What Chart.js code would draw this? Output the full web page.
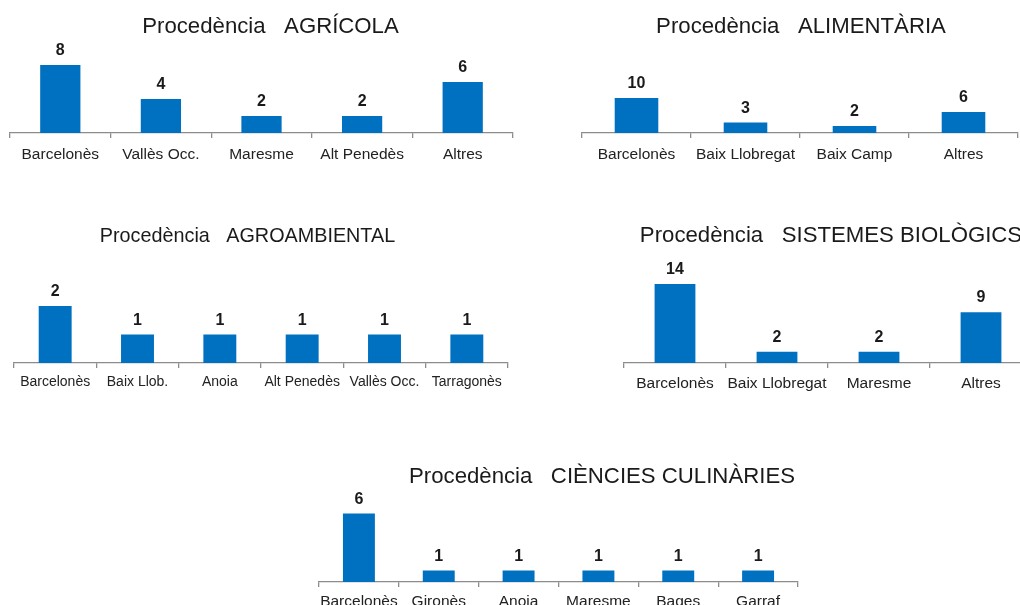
<!DOCTYPE html>
<html>
<head>
<meta charset="utf-8">
<script src="https://cdn.jsdelivr.net/npm/chart.js@4.4.1/dist/chart.umd.min.js"></script>
<style>
  html, body { margin: 0; padding: 0; background: #fff; overflow: hidden; }
  #page { position: relative; width: 1020px; height: 605px; overflow: hidden; }
  #page canvas { position: absolute; }
</style>
</head>
<body>
<div id="page"></div>
<script>
// data
const agricolaTitle = 'Procedència   AGRÍCOLA';
const agricolaLabels = ['Barcelonès', 'Vallès Occ.', 'Maresme', 'Alt Penedès', 'Altres'];
const agricolaValues = [8, 4, 2, 2, 6];

const alimentariaTitle = 'Procedència   ALIMENTÀRIA';
const alimentariaLabels = ['Barcelonès', 'Baix Llobregat', 'Baix Camp', 'Altres'];
const alimentariaValues = [10, 3, 2, 6];

const agroambientalTitle = 'Procedència   AGROAMBIENTAL';
const agroambientalLabels = ['Barcelonès', 'Baix Llob.', 'Anoia', 'Alt Penedès', 'Vallès Occ.', 'Tarragonès'];
const agroambientalValues = [2, 1, 1, 1, 1, 1];

const biologicsTitle = 'Procedència   SISTEMES BIOLÒGICS';
const biologicsLabels = ['Barcelonès', 'Baix Llobregat', 'Maresme', 'Altres'];
const biologicsValues = [14, 2, 2, 9];

const culinariesTitle = 'Procedència   CIÈNCIES CULINÀRIES';
const culinariesLabels = ['Barcelonès', 'Gironès', 'Anoia', 'Maresme', 'Bages', 'Garraf'];
const culinariesValues = [6, 1, 1, 1, 1, 1];

const BLUE = '#0070c0';
const AXIS = '#8c8c8c';
const FONT = "'Liberation Sans', Arial, sans-serif";
const page = document.getElementById('page');

// numbers above the bars
const valueLabels = {
  id: 'valueLabels',
  afterDatasetsDraw(chart, args, opts) {
    const ctx = chart.ctx;
    const ds = chart.data.datasets[0];
    ctx.save();
    ctx.font = 'bold ' + opts.size + 'px ' + FONT;
    ctx.fillStyle = '#1a1a1a';
    ctx.textAlign = 'center';
    ctx.textBaseline = 'alphabetic';
    chart.getDatasetMeta(0).data.forEach((bar, i) => {
      ctx.fillText(ds.data[i], bar.x, bar.y - 10);
    });
    ctx.restore();
  }
};

// panel title (not always centred on the axis in the original)
const panelTitle = {
  id: 'panelTitle',
  afterDraw(chart, args, opts) {
    const ctx = chart.ctx;
    ctx.save();
    ctx.font = opts.size + 'px ' + FONT;
    ctx.fillStyle = '#1a1a1a';
    ctx.textAlign = 'center';
    ctx.textBaseline = 'alphabetic';
    ctx.fillText(opts.text, opts.x, opts.y);
    ctx.restore();
  }
};

function makeChart(title, labels, values, box) {
  const W = box.right - box.left + 20, H = 200;
  const left = box.left - 10, top = box.axisY - 160;
  const c = document.createElement('canvas');
  c.width = W; c.height = H;
  c.style.left = left + 'px';
  c.style.top = top + 'px';
  c.style.width = W + 'px';
  c.style.height = H + 'px';
  page.appendChild(c);

  new Chart(c, {
    type: 'bar',
    data: {
      labels: labels,
      datasets: [{
        data: values,
        backgroundColor: BLUE,
        barPercentage: 0.4,
        categoryPercentage: 1
      }]
    },
    options: {
      responsive: false,
      animation: false,
      layout: { padding: { left: 10, right: 10, top: 60, bottom: 0 } },
      plugins: {
        legend: { display: false },
        tooltip: { enabled: false },
        valueLabels: { size: box.valueSize },
        panelTitle: { text: title, size: box.titleSize, x: box.titleX - left, y: box.titleY - top }
      },
      scales: {
        x: {
          offset: true,
          grid: { display: true, offset: true, drawOnChartArea: false, drawTicks: true, tickLength: 5, color: AXIS, lineWidth: 1.3 },
          border: { display: true, color: AXIS, width: 1.3 },
          ticks: { color: '#222', font: { family: FONT, size: box.labelSize }, padding: box.labelPad, maxRotation: 0, autoSkip: false },
          afterFit(scale) { scale.height = 40; }
        },
        y: { display: false, min: 0, max: 100 / box.pxPerUnit }
      }
    },
    plugins: [valueLabels, panelTitle]
  });
}

makeChart(agricolaTitle, agricolaLabels, agricolaValues,
  { left: 10, right: 513, axisY: 133, pxPerUnit: 8.5, titleX: 270.5, titleY: 33, titleSize: 22.2, labelSize: 15.5, labelPad: 7, valueSize: 16 });
makeChart(alimentariaTitle, alimentariaLabels, alimentariaValues,
  { left: 582, right: 1018, axisY: 133, pxPerUnit: 3.5, titleX: 801, titleY: 33, titleSize: 22.2, labelSize: 15.5, labelPad: 7, valueSize: 16 });
makeChart(agroambientalTitle, agroambientalLabels, agroambientalValues,
  { left: 14, right: 508, axisY: 363, pxPerUnit: 28.5, titleX: 247.5, titleY: 242, titleSize: 19.8, labelSize: 14, labelPad: 6, valueSize: 16 });
makeChart(biologicsTitle, biologicsLabels, biologicsValues,
  { left: 624, right: 1032, axisY: 363, pxPerUnit: 5.65, titleX: 831, titleY: 242, titleSize: 22.2, labelSize: 15.5, labelPad: 6, valueSize: 16 });
makeChart(culinariesTitle, culinariesLabels, culinariesValues,
  { left: 319, right: 798, axisY: 582, pxPerUnit: 11.4, titleX: 602, titleY: 483, titleSize: 22.2, labelSize: 15.5, labelPad: 5, valueSize: 16 });
</script>
</body>
</html>
